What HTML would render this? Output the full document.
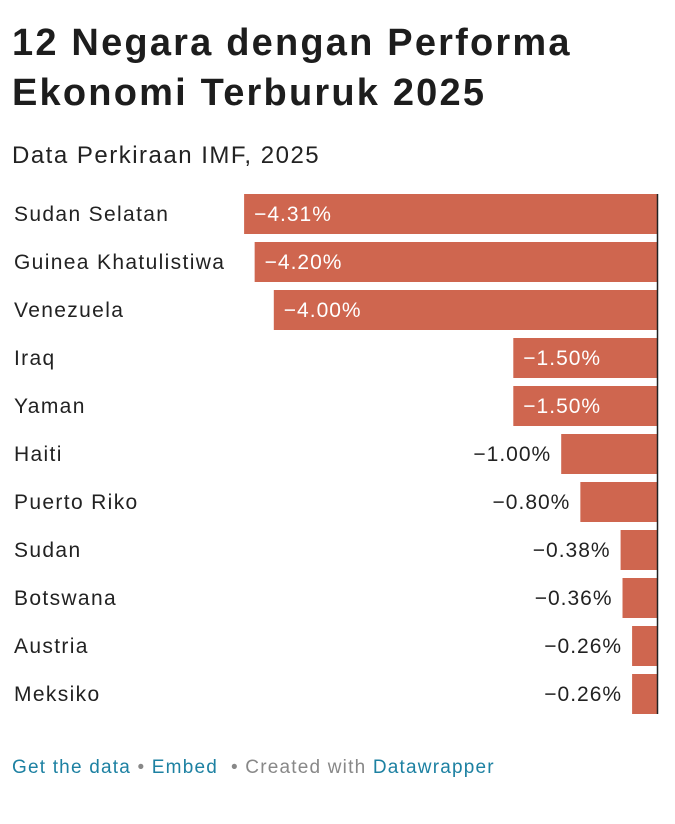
<!DOCTYPE html>
<html><head><meta charset="utf-8"><style>
body{margin:0;width:675px;height:824px;background:#fff;font-family:"Liberation Sans",sans-serif;position:relative;overflow:hidden}
h1{position:absolute;left:12px;top:18px;margin:0;font-size:38px;line-height:50px;font-weight:bold;color:#1d1d1d;letter-spacing:2.2px}
.sub{position:absolute;left:12px;top:142px;font-size:24px;color:#222;letter-spacing:1.5px}
.foot{position:absolute;left:12px;top:757px;font-size:19px;color:#888;letter-spacing:1.2px}
.foot a{color:#1d81a2;text-decoration:none}
</style></head><body>
<h1>12 Negara dengan Performa<br>Ekonomi Terburuk 2025</h1>
<div class="sub">Data Perkiraan IMF, 2025</div>
<svg id="chart" width="675" height="740" style="position:absolute;left:0;top:0"></svg>
<div class="foot"><a>Get the data</a> • <a>Embed</a> &nbsp;• Created with <a>Datawrapper</a></div>
<script>
const countries=["Sudan Selatan","Guinea Khatulistiwa","Venezuela","Iraq","Yaman","Haiti","Puerto Riko","Sudan","Botswana","Austria","Meksiko"];
const values=[-4.31,-4.20,-4.00,-1.50,-1.50,-1.00,-0.80,-0.38,-0.36,-0.26,-0.26];
const NS="http://www.w3.org/2000/svg";
const svg=document.getElementById('chart');
const x0=657,scale=95.8,top0=194,step=48,bh=40;
const xs=v=>x0+v*scale;
function mk(t,a){const e=document.createElementNS(NS,t);for(const k in a)e.setAttribute(k,a[k]);svg.appendChild(e);return e;}
countries.forEach((c,i)=>{
  const y=top0+i*step,v=values[i],xl=xs(v);
  const lab=mk('text',{x:14,y:y+bh/2+7,'font-size':21,fill:'#222','letter-spacing':1.35});
  
  
  lab.textContent=c;
  const r=mk('rect',{x:xl,y:y,width:x0-xl,height:bh,fill:'#cf664f'});
  
  
  const txt=(v<0?'\u2212':'')+Math.abs(v).toFixed(2)+'%';
  const inside=(x0-xl)>120;
  const vt=mk('text',{x:inside?xl+10:xl-10,y:y+bh/2+7,'font-size':21,fill:inside?'#fff':'#222','text-anchor':inside?'start':'end','letter-spacing':1});
  
  
  vt.textContent=txt;
});
const zl=mk('line',{x1:x0+0.5,x2:x0+0.5,y1:top0,y2:top0+(countries.length-1)*step+bh,stroke:'#222','stroke-width':1.5});


</script>
</body></html>
